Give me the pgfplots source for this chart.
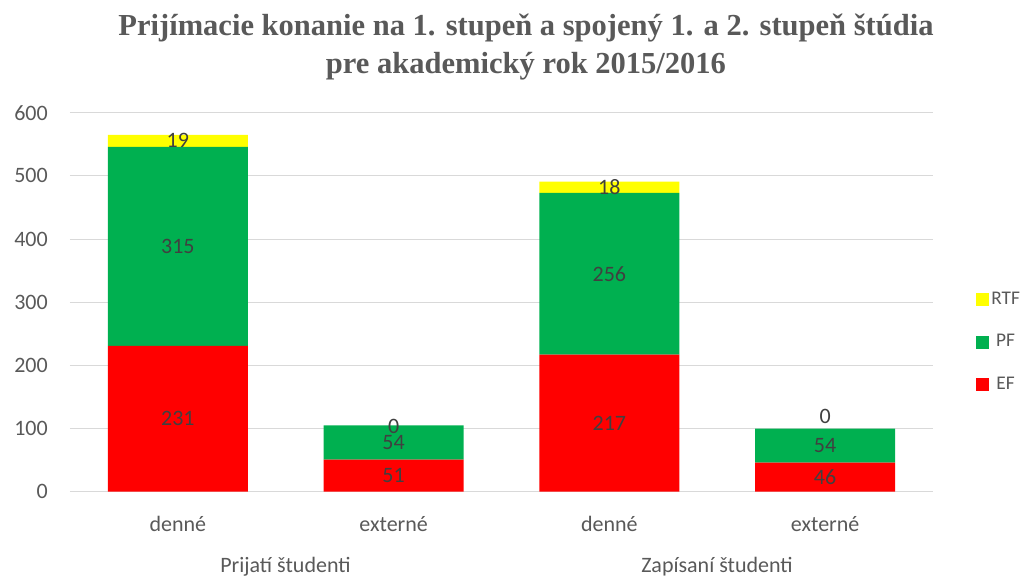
\documentclass[border=0pt]{standalone}
\usepackage{pgfplots}
\pgfplotsset{compat=1.18}
\usepackage{pgfplotstable}
\usepackage{fontspec}
\setmainfont{Carlito}
\newfontfamily\titlefont{Liberation Serif}
\definecolor{txt}{HTML}{595959}
\definecolor{lbl}{HTML}{404040}
\definecolor{grd}{HTML}{D9D9D9}
\definecolor{cEF}{HTML}{FF0000}
\definecolor{cPF}{HTML}{00B050}
\definecolor{cRTF}{HTML}{FFFF00}
\pgfplotstableread{
x EF PF RTF
0 231 315 19
1 51 54 0
2 217 256 18
3 46 54 0
}\data
\pgfplotstableread{
x y lab
1 103 0
3 119 0
}\zerolabels
\begin{document}
\begin{tikzpicture}
\path[use as bounding box] (-52.5pt,-63.2pt) rectangle (716.25pt,368.8pt);
\pgfplotsset{common/.style={
  at={(0pt,0pt)}, anchor=south west,
  scale only axis, width=647.25pt, height=284.25pt,
  xmin=-0.5, xmax=3.5, ymin=0, ymax=600}}
\begin{axis}[
  common,
  ybar stacked, bar width=105pt,
  ytick={0,100,...,600}, xtick={0,1,2,3},
  xticklabels={denné,externé,denné,externé},
  axis line style={draw=none},
  major tick length=0pt,
  ymajorgrids, grid style={grd, line width=0.75pt},
  /pgf/number format/assume math mode=true,
  tick label style={font=\fontsize{16.5}{20}\selectfont, text=txt},
  yticklabel style={anchor=east, inner sep=0pt, xshift=-16.5pt},
  xticklabel style={anchor=base, inner sep=0pt, yshift=-29.5pt},
  point meta=explicit,
  nodes near coords,
  every node near coord/.append style={anchor=center, font=\fontsize{16.5}{20}\selectfont, text=lbl},
  reverse legend,
  legend style={at={(1.0445,0.395)}, anchor=west, draw=none, fill=none,
     font=\fontsize{14.5}{17}\selectfont, text=txt, row sep=15pt,
     nodes={text height=10pt, text depth=3pt, inner sep=2pt}},
  legend image code/.code={\fill[#1] (-1pt,-4.875pt) rectangle (8.75pt,4.875pt);},
]
\addplot[fill=cEF, draw=none] table[x=x, y=EF, meta=EF] {\data};
\addplot[fill=cPF, draw=none] table[x=x, y=PF, meta=PF] {\data};
\addplot[fill=cRTF, draw=none] table[x=x, y=RTF, meta=RTF] {\data};
\legend{EF,PF,RTF}
\end{axis}
\begin{axis}[common, hide axis,
  nodes near coords, point meta=explicit symbolic,
  every node near coord/.append style={anchor=center, font=\fontsize{16.5}{20}\selectfont, text=lbl}]
\addplot[draw=none, mark=none] table[x=x, y=y, meta=lab] {\zerolabels};
\end{axis}
\node[anchor=base, text=txt, font=\titlefont\bfseries\fontsize{22.9}{27}\selectfont] at (342pt,341.8pt) {Prijímacie konanie na 1. stupeň a spojený 1. a 2. stupeň štúdia};
\node[anchor=base, text=txt, font=\titlefont\bfseries\fontsize{22.9}{27}\selectfont] at (342pt,314pt) {pre akademický rok 2015/2016};
\node[anchor=base, text=txt, font=\fontsize{16.5}{20}\selectfont] at (161.6pt,-60.5pt) {Prijatí študenti};
\node[anchor=base, text=txt, font=\fontsize{16.5}{20}\selectfont] at (485.25pt,-60.5pt) {Zapísaní študenti};
\end{tikzpicture}
\end{document}
